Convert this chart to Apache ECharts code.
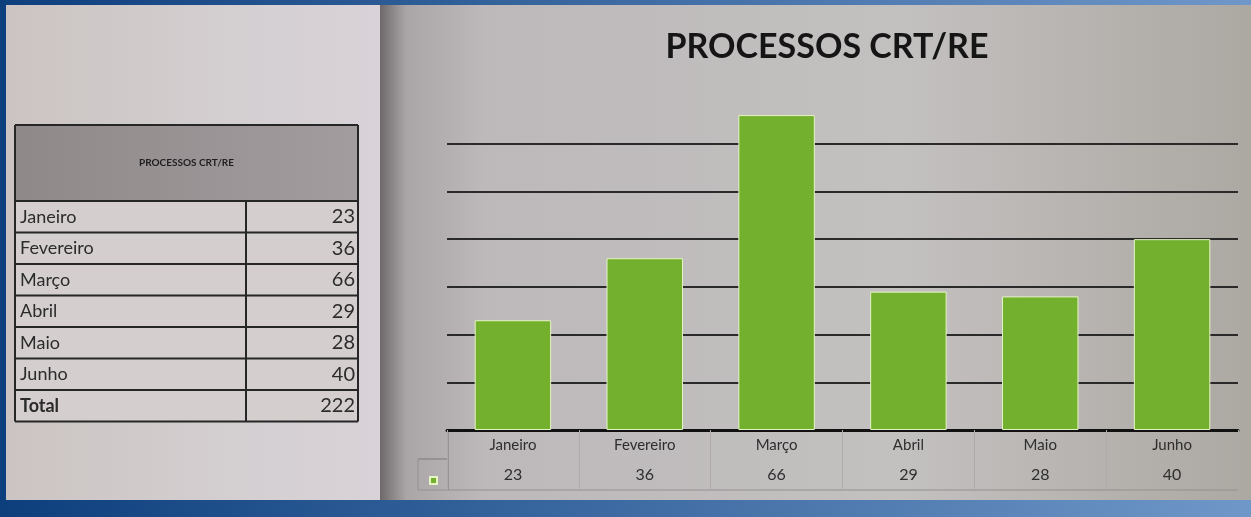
<!DOCTYPE html>
<html>
<head>
<meta charset="utf-8">
<script src="https://cdn.jsdelivr.net/npm/echarts@6/dist/echarts.min.js"></script>
<style>
  html, body { margin: 0; padding: 0; background: #154a86; }
  #chart { width: 1251px; height: 517px; }
</style>
</head>
<body>
<div id="chart"></div>
<script>
  // dados da planilha
  const titulo = 'PROCESSOS CRT/RE'
  const meses = ['Janeiro', 'Fevereiro', 'Março', 'Abril', 'Maio', 'Junho']
  const processos = [23, 36, 66, 29, 28, 40]
  const eixoY = { min: 0, max: 70, interval: 10 }

  const total = processos.reduce((a, b) => a + b, 0)
  const fonte = 'Lato, "Open Sans", sans-serif'

  // tabela da esquerda (layout fixo)
  function tabela() {
    const x0 = 15, x1 = 358, xCol = 246
    const yTop = 125, yHead = 201, rowH = 31.5
    const linhas = meses.map((m, i) => ({ nome: m, valor: processos[i], bold: false }))
    linhas.push({ nome: 'Total', valor: total, bold: true })
    const yBot = yHead + rowH * linhas.length
    const els = [
      {
        type: 'rect', shape: { x: x0, y: yTop, width: x1 - x0, height: yHead - yTop },
        style: { fill: new echarts.graphic.LinearGradient(0, 0, 1, 0, [{ offset: 0, color: '#8f898a' }, { offset: 1, color: '#a29c9e' }]) }
      },
      { type: 'rect', shape: { x: x0, y: yHead, width: x1 - x0, height: yBot - yHead }, style: { fill: '#d4cecf' } },
      {
        type: 'text', x: (x0 + x1) / 2, y: (yTop + yHead) / 2,
        style: { text: titulo, font: 'bold 10px ' + fonte, fill: '#1e1e1e', align: 'center', verticalAlign: 'middle' }
      }
    ]
    linhas.forEach((l, i) => {
      const yc = yHead + rowH * i + rowH / 2
      els.push({
        type: 'text', x: x0 + 5, y: yc,
        style: { text: l.nome, font: (l.bold ? 'bold ' : '') + '18px ' + fonte, fill: '#2b2b2b', verticalAlign: 'middle' }
      })
      els.push({
        type: 'text', x: x1 - 3, y: yc,
        style: { text: String(l.valor), font: '20px ' + fonte, fill: '#2b2b2b', align: 'right', verticalAlign: 'middle' }
      })
    })
    for (let i = 0; i <= linhas.length; i++) {
      const y = yHead + rowH * i
      els.push({ type: 'line', shape: { x1: x0, y1: y, x2: x1, y2: y }, style: { stroke: '#262626', lineWidth: 2 } })
    }
    els.push({ type: 'line', shape: { x1: x0, y1: yTop, x2: x1, y2: yTop }, style: { stroke: '#262626', lineWidth: 2 } })
    els.push({ type: 'line', shape: { x1: x0, y1: yTop, x2: x0, y2: yBot }, style: { stroke: '#262626', lineWidth: 2 } })
    els.push({ type: 'line', shape: { x1: x1, y1: yTop, x2: x1, y2: yBot }, style: { stroke: '#262626', lineWidth: 2 } })
    els.push({ type: 'line', shape: { x1: xCol, y1: yHead, x2: xCol, y2: yBot }, style: { stroke: '#262626', lineWidth: 2 } })
    return els
  }

  const chart = echarts.init(document.getElementById('chart'))

  const fundo = [
    // moldura azul
    {
      type: 'rect', z: -20, shape: { x: 0, y: 0, width: 1251, height: 517 },
      style: { fill: new echarts.graphic.LinearGradient(0, 0, 1, 0, [{ offset: 0, color: '#0d3f7d' }, { offset: 1, color: '#6f97c8' }]) }
    },
    // painel da tabela
    {
      type: 'rect', z: -19, shape: { x: 6, y: 5, width: 374, height: 495 },
      style: { fill: new echarts.graphic.LinearGradient(0, 0, 1, 0, [{ offset: 0, color: '#cbc4c2' }, { offset: 0.7, color: '#d5d0d3' }, { offset: 1, color: '#d9d2d8' }]) }
    },
    // painel do grafico
    {
      type: 'rect', z: -19, shape: { x: 380, y: 5, width: 871, height: 495 },
      style: { fill: new echarts.graphic.LinearGradient(0, 0, 1, 0, [{ offset: 0, color: '#6e6869' }, { offset: 0.03, color: '#aaa6a7' }, { offset: 0.12, color: '#bdb9ba' }, { offset: 0.6, color: '#c3c0c0' }, { offset: 1, color: '#aca8a2' }]) }
    },
    // linhas da tabela de dados
    { type: 'line', shape: { x1: 448, y1: 430, x2: 448, y2: 490 }, style: { stroke: '#7d797a', lineWidth: 1 } },
    { type: 'line', shape: { x1: 418, y1: 459, x2: 448, y2: 459 }, style: { stroke: '#7d797a', lineWidth: 1 } },
    { type: 'line', shape: { x1: 418, y1: 490, x2: 1238, y2: 490 }, style: { stroke: '#948f90', lineWidth: 1 } },
    { type: 'line', shape: { x1: 418, y1: 459, x2: 418, y2: 490 }, style: { stroke: '#948f90', lineWidth: 1 } }
  ]

  const option = {
    animation: false,
    title: {
      text: titulo,
      left: 822,
      textAlign: 'center',
      top: 25,
      textStyle: { color: '#151515', fontSize: 34, fontWeight: 'bold', fontFamily: fonte }
    },
    legend: {
      data: ['Processos'],
      left: 424,
      top: 471,
      itemWidth: 7,
      itemHeight: 7,
      icon: 'rect',
      formatter: () => '',
      itemGap: 0
    },
    grid: { left: 447, right: 13, top: 96, bottom: 87 },
    xAxis: {
      type: 'category',
      data: meses,
      axisLine: { lineStyle: { color: '#111', width: 3 } },
      axisTick: { show: true, inside: false, length: 60, lineStyle: { color: '#aeaaaa', width: 1 } },
      axisLabel: {
        margin: 0,
        formatter: (v, i) => '{n|' + v + '}\n{v|' + processos[i] + '}',
        rich: {
          n: { fontSize: 15, color: '#2e2e2e', fontFamily: fonte, lineHeight: 30 },
          v: { fontSize: 16, color: '#2e2e2e', fontFamily: fonte, lineHeight: 30 }
        }
      }
    },
    yAxis: {
      type: 'value',
      min: eixoY.min,
      max: eixoY.max,
      interval: eixoY.interval,
      axisLabel: { show: false },
      axisLine: { show: false },
      axisTick: { show: false },
      splitLine: { show: true, showMinLine: false, showMaxLine: false, lineStyle: { color: '#2a2a2a', width: 2 } }
    },
    series: [{
      name: 'Processos',
      type: 'bar',
      data: processos,
      barWidth: '58%',
      itemStyle: { color: '#72b02e', borderColor: '#e6f4c4', borderWidth: 1 }
    }],
    graphic: fundo.concat(tabela())
  }

  chart.setOption(option)
</script>
</body>
</html>
